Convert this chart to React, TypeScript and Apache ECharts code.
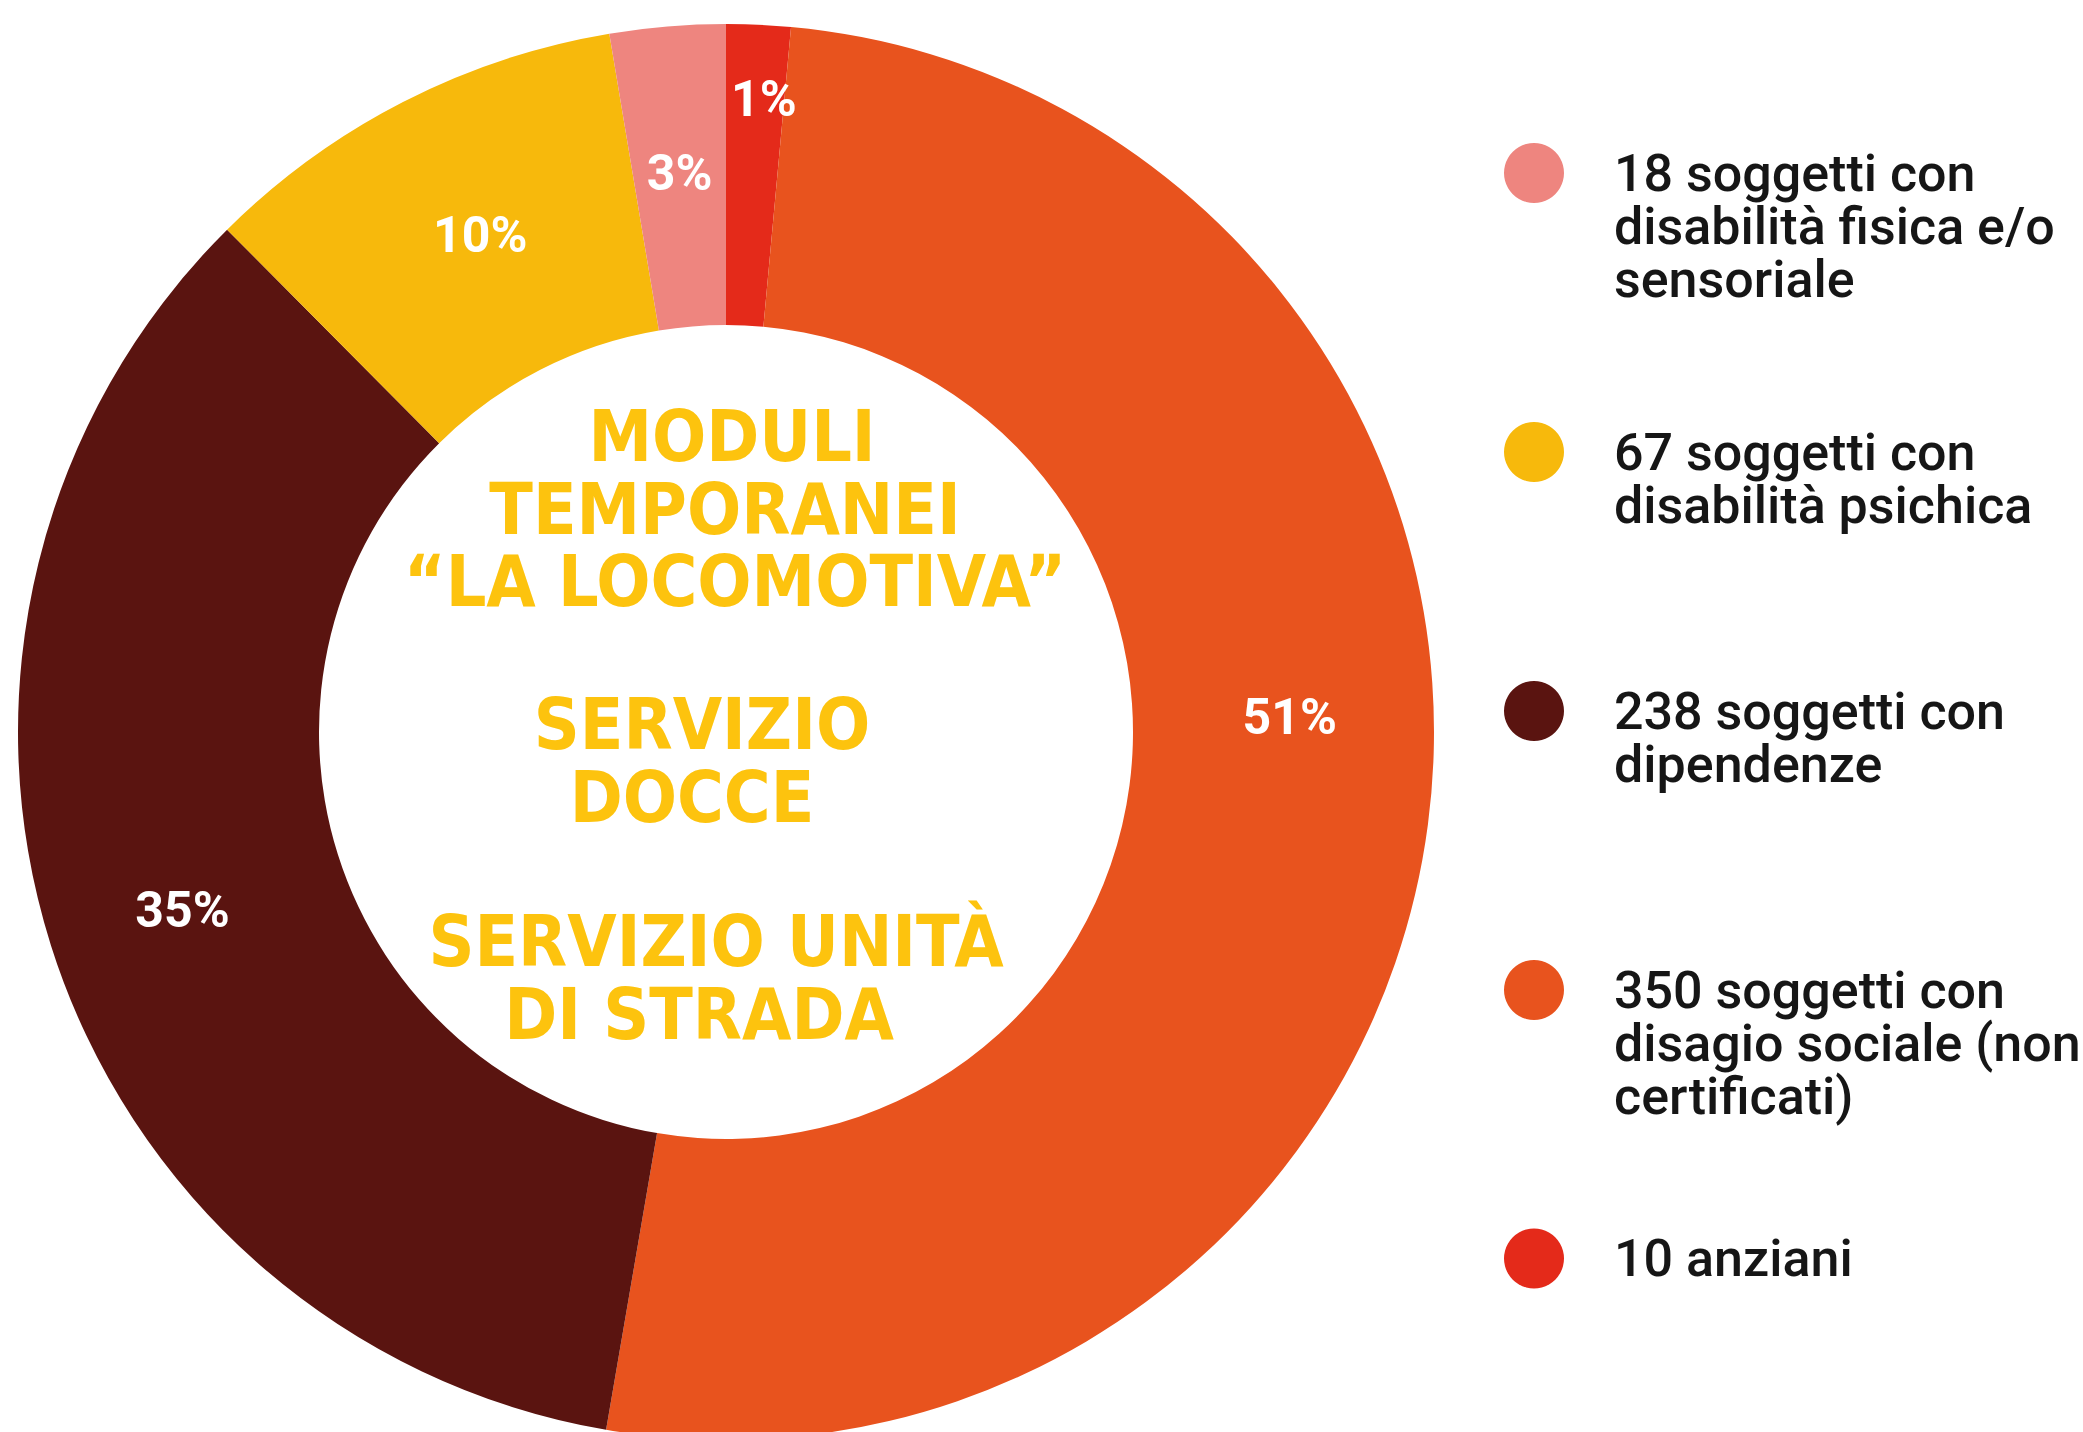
import React, { useEffect, useRef } from "react";
import * as echarts from "echarts";

// Slices in clockwise order starting at 12 o'clock
const sliceNames = [
  "10 anziani",
  "350 soggetti con\ndisagio sociale (non\ncertificati)",
  "238 soggetti con\ndipendenze",
  "67 soggetti con\ndisabilità psichica",
  "18 soggetti con\ndisabilità fisica e/o\nsensoriale",
];
const sliceValues = [10, 350, 238, 67, 18];
const sliceColors = ["#E42A1A", "#E8531E", "#5A1410", "#F7B90C", "#EE857F"];

// Legend order (top to bottom) as indices into the slice arrays
const legendOrder = [4, 3, 2, 1, 0];

// Center title lines
const centerLines = [
  "MODULI",
  "TEMPORANEI",
  "“LA LOCOMOTIVA”",
  "SERVIZIO",
  "DOCCE",
  "SERVIZIO UNITÀ",
  "DI STRADA",
];

// Layout constants
const CX = 726;
const CY = 732;
const R_IN = 407;
const R_OUT = 708;
const LEGEND_MARKER_Y = [173, 452, 711, 990, 1255];
const LEGEND_LH = 53;
const CENTER_LINE_X = [732, 725, 735, 702, 692, 716, 699];
const CENTER_LINE_Y = [436, 509, 581, 724, 797, 941, 1014];
const LABEL_OFFSETS: Record<number, number[]> = {
  0: [12, -73],
  1: [8, -88],
  2: [-9, 9],
  3: [10, 2],
};

export default function App() {
  const ref = useRef<HTMLDivElement>(null);

  useEffect(() => {
    if (!ref.current) return;
    const chart = echarts.init(ref.current, undefined, { renderer: "svg" });

    const legends = legendOrder.map((idx, k) => {
      const name = sliceNames[idx];
      const n = name.split("\n").length;
      return {
        data: [name],
        orient: "vertical",
        left: 1504,
        top: LEGEND_MARKER_Y[k] - (n - 0.5) * LEGEND_LH,
        padding: 0,
        itemWidth: 60,
        itemHeight: 60,
        itemGap: 0,
        icon: "circle",
        selectedMode: false,
        formatter: (nm: string) => "\n".repeat(n - 1) + nm,
        textStyle: {
          fontFamily: "Roboto",
          fontWeight: 500,
          fontSize: 52,
          lineHeight: LEGEND_LH,
          color: "#161616",
          padding: [0, 0, 0, 45],
        },
      };
    });

    const graphics = centerLines.map((t, i) => ({
      type: "text",
      x: CENTER_LINE_X[i],
      y: CENTER_LINE_Y[i],
      silent: true,
      style: {
        text: t,
        fill: "#FDC30E",
        fontFamily: "'DejaVu Sans Condensed', 'DejaVu Sans', sans-serif",
        fontWeight: "bold",
        fontSize: 71,
        align: "center",
        verticalAlign: "middle",
        textAlign: "center",
        textVerticalAlign: "middle",
      },
    }));

    chart.setOption({
      animation: false,
      backgroundColor: "#ffffff",
      legend: legends,
      graphic: graphics,
      series: [
        {
          type: "pie",
          center: [CX, CY],
          radius: [R_IN, R_OUT],
          startAngle: 90,
          clockwise: true,
          avoidLabelOverlap: false,
          silent: true,
          labelLine: { show: false },
          label: {
            show: true,
            position: "inside",
            color: "#ffffff",
            fontFamily: "Roboto",
            fontWeight: "bold",
            fontSize: 50,
            formatter: (p: any) => Math.round(p.percent) + "%",
          },
          data: sliceValues.map((v, i) => {
            const item: any = {
              name: sliceNames[i],
              value: v,
              itemStyle: { color: sliceColors[i] },
            };
            if (LABEL_OFFSETS[i]) item.label = { offset: LABEL_OFFSETS[i] };
            return item;
          }),
        },
      ],
    });

    return () => chart.dispose();
  }, []);

  return (
    <div
      ref={ref}
      style={{
        position: "absolute",
        left: 0,
        top: 0,
        width: 2083,
        height: 1432,
        background: "#ffffff",
      }}
    />
  );
}
